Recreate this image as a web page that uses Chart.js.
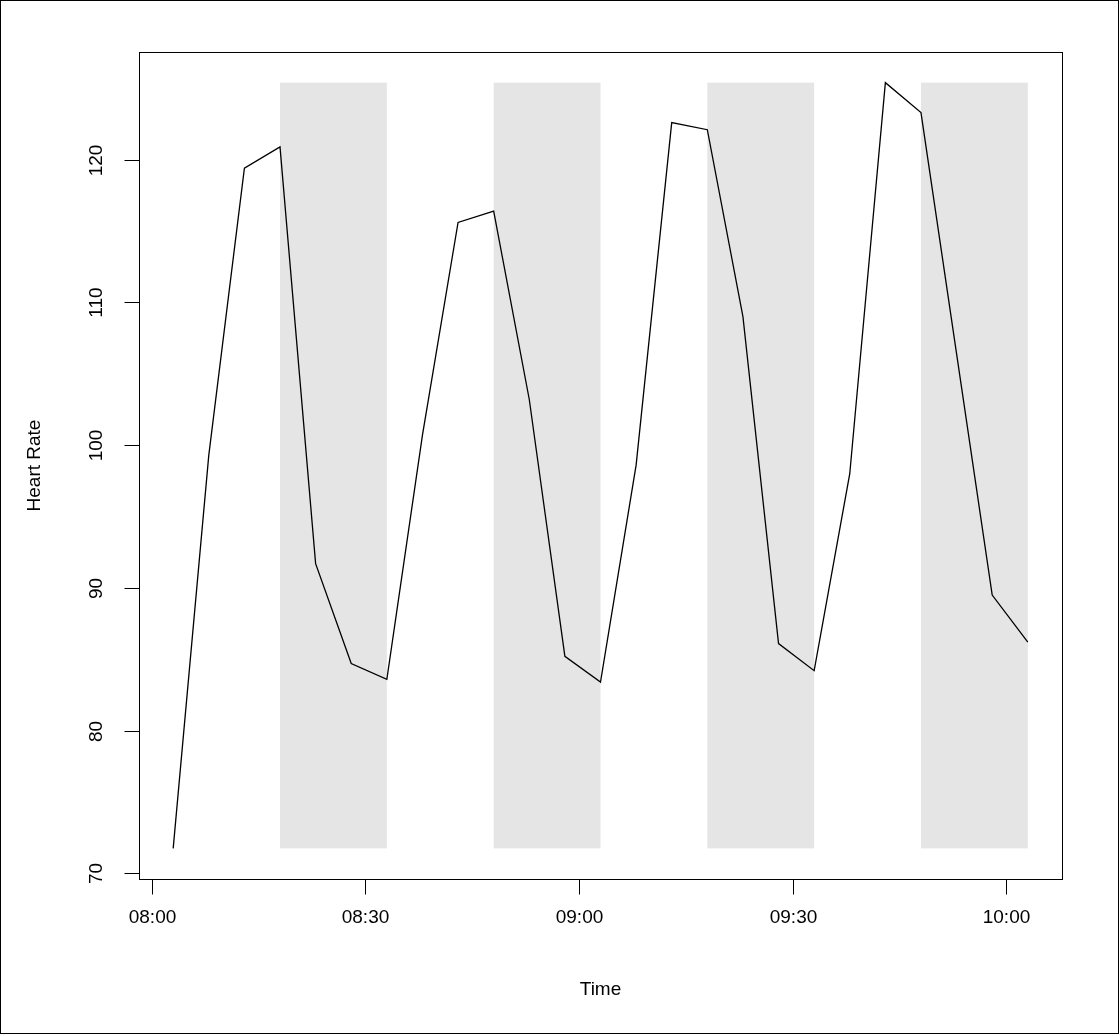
<!DOCTYPE html>
<html>
<head>
<meta charset="utf-8">
<script src="https://cdn.jsdelivr.net/npm/chart.js@4.4.0/dist/chart.umd.min.js"></script>
<style>
  html, body { margin: 0; padding: 0; background: #fff; }
  #wrap { width: 1119px; height: 1034px; }
</style>
</head>
<body>
<div id="wrap"><canvas id="c"></canvas></div>
<script>
const times = ["08:03","08:08","08:13","08:18","08:23","08:28","08:33","08:38","08:43","08:48",
  "08:53","08:58","09:03","09:08","09:13","09:18","09:23","09:28","09:33","09:38",
  "09:43","09:48","09:53","09:58","10:03"];
const heartRate = [71.75, 99.3, 119.4, 120.9, 91.7, 84.7, 83.6, 100.7, 115.6, 116.4,
  103.2, 85.2, 83.4, 98.6, 122.6, 122.1, 109.0, 86.1, 84.2, 98.0,
  125.4, 123.3, 106.4, 89.5, 86.2];
const bandStart = ["08:18","08:48","09:18","09:48"];
const bandEnd = ["08:33","09:03","09:33","10:03"];
const xTicks = ["08:00","08:30","09:00","09:30","10:00"];
const yTicks = [70, 80, 90, 100, 110, 120];

const toMin = (s) => { const p = s.split(":"); return +p[0] * 60 + +p[1]; };
const points = times.map((t, i) => ({ x: toMin(t), y: heartRate[i] }));

const xMinV = toMin(times[0]), xMaxV = toMin(times[times.length - 1]);
const yMinV = Math.min(...heartRate), yMaxV = Math.max(...heartRate);
const xPad = (xMaxV - xMinV) * 0.04, yPad = (yMaxV - yMinV) * 0.04;

const font = '19px "Liberation Sans", Arial, sans-serif';

const rPlot = {
  id: "rPlot",
  beforeDatasetsDraw(chart) {
    const { ctx, scales: { x, y } } = chart;
    ctx.save();
    ctx.fillStyle = "#e5e5e5";
    bandStart.forEach((s, i) => {
      const x0 = x.getPixelForValue(toMin(s)), x1 = x.getPixelForValue(toMin(bandEnd[i]));
      const y0 = y.getPixelForValue(yMaxV), y1 = y.getPixelForValue(yMinV);
      ctx.fillRect(x0, y0, x1 - x0, y1 - y0);
    });
    ctx.restore();
  },
  afterDraw(chart) {
    const { ctx, chartArea: a, scales: { x, y } } = chart;
    ctx.save();
    ctx.strokeStyle = "#000";
    ctx.lineWidth = 1;
    // outer border
    ctx.strokeRect(0.5, 0.5, chart.width - 1, chart.height - 1);
    // plot box (acts as the axes)
    const L = Math.round(a.left) + 0.5, B = Math.round(a.bottom) + 0.5;
    ctx.strokeRect(L, Math.round(a.top) + 0.5,
      Math.round(a.right - a.left), Math.round(a.bottom - a.top));
    ctx.fillStyle = "#000";
    ctx.font = font;
    ctx.textAlign = "center"; ctx.textBaseline = "middle";
    // x ticks
    const xs = xTicks.map((t) => Math.round(x.getPixelForValue(toMin(t))) + 0.5);
    ctx.beginPath();
    xs.forEach((px) => { ctx.moveTo(px, B); ctx.lineTo(px, B + 15); });
    ctx.stroke();
    xs.forEach((px, i) => ctx.fillText(xTicks[i], px, 918));
    ctx.fillText("Time", (a.left + a.right) / 2, 990);
    // y ticks
    const ys = yTicks.map((v) => Math.round(y.getPixelForValue(v)) + 0.5);
    ctx.beginPath();
    ys.forEach((py) => { ctx.moveTo(L, py); ctx.lineTo(L - 15, py); });
    ctx.stroke();
    ys.forEach((py, i) => {
      ctx.save(); ctx.translate(97, py); ctx.rotate(-Math.PI / 2);
      ctx.fillText(String(yTicks[i]), 0, 0); ctx.restore();
    });
    ctx.save(); ctx.translate(35, (a.top + a.bottom) / 2); ctx.rotate(-Math.PI / 2);
    ctx.fillText("Heart Rate", 0, 0); ctx.restore();
    ctx.restore();
  }
};

new Chart(document.getElementById("c"), {
  type: "line",
  data: {
    datasets: [{
      data: points,
      borderColor: "#000",
      borderWidth: 1.3,
      pointRadius: 0,
      tension: 0,
      fill: false
    }]
  },
  options: {
    responsive: true,
    maintainAspectRatio: false,
    animation: false,
    devicePixelRatio: 1,
    layout: { padding: { top: 52, right: 57, left: 0, bottom: 0 } },
    plugins: { legend: { display: false }, tooltip: { enabled: false } },
    scales: {
      x: {
        type: "linear", min: xMinV - xPad, max: xMaxV + xPad,
        grid: { display: false }, border: { display: false },
        ticks: { display: false },
        afterFit: (s) => { s.height = 155; }
      },
      y: {
        type: "linear", min: yMinV - yPad, max: yMaxV + yPad,
        grid: { display: false }, border: { display: false },
        ticks: { display: false },
        afterFit: (s) => { s.width = 139; }
      }
    }
  },
  plugins: [rPlot]
});
</script>
</body>
</html>
